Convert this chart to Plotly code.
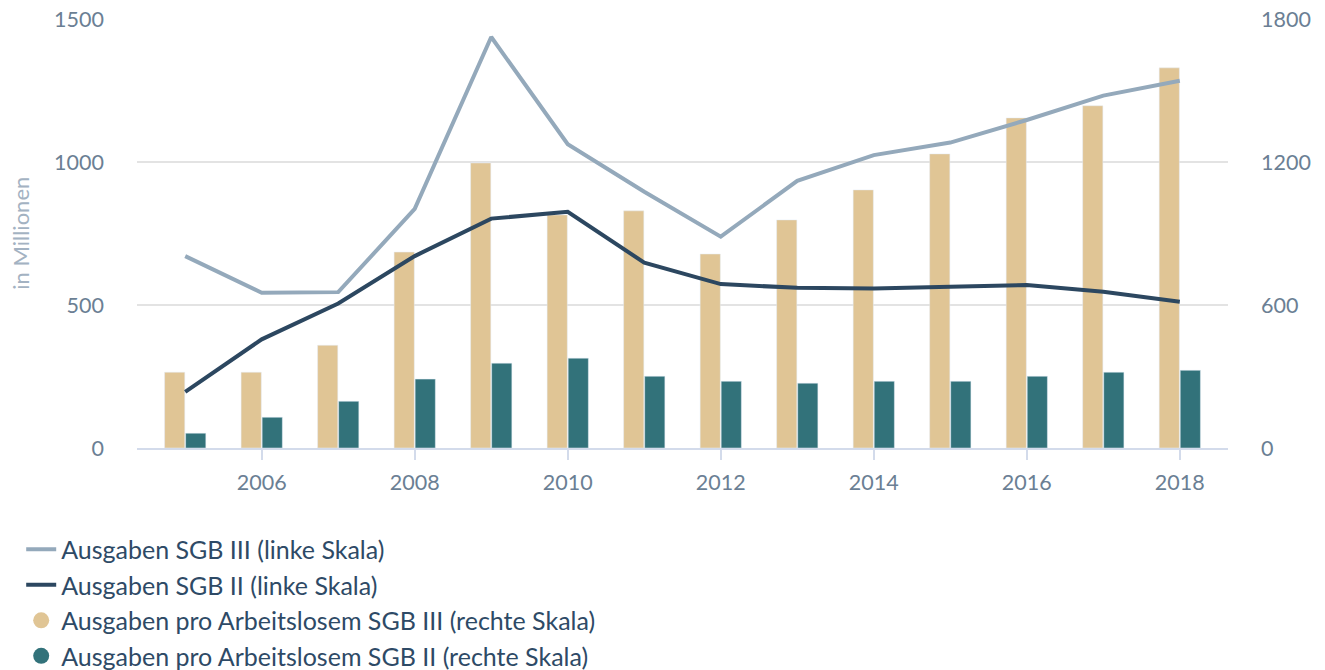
import plotly.graph_objects as go

years = list(range(2005, 2019))
sgb3_total = [671, 543, 545, 836, 1437, 1062, 896, 739, 934, 1024, 1068, 1147, 1232, 1284]
sgb2_total = [196, 380, 505, 671, 802, 826, 648, 573, 560, 558, 564, 570, 546, 511]
sgb3_per = [318, 318, 431, 822, 1196, 978, 995, 814, 957, 1083, 1234, 1385, 1436, 1595]
sgb2_per = [62, 129, 196, 289, 356, 377, 301, 280, 272, 280, 280, 301, 318, 326]

names = [
    "Ausgaben SGB III (linke Skala)",
    "Ausgaben SGB II (linke Skala)",
    "Ausgaben pro Arbeitslosem SGB III (rechte Skala)",
    "Ausgaben pro Arbeitslosem SGB II (rechte Skala)",
]

C_LIGHT = "#94a9bb"
C_DARK = "#2c4760"
C_TAN = "#e0c595"
C_TEAL = "#32727a"
FONT = "Lato"

fig = go.Figure()
# bars on the right scale (base subplot), lines on the left scale (overlay, drawn on top)
fig.add_trace(go.Bar(x=years, y=sgb3_per, yaxis="y", marker_color=C_TAN,
                     name=names[2], showlegend=False, offsetgroup="a"))
fig.add_trace(go.Bar(x=years, y=sgb2_per, yaxis="y", marker_color=C_TEAL,
                     name=names[3], showlegend=False, offsetgroup="b"))
fig.add_trace(go.Scatter(x=years, y=sgb3_total, yaxis="y2", mode="lines", name=names[0],
                         line=dict(color=C_LIGHT, width=4)))
fig.add_trace(go.Scatter(x=years, y=sgb2_total, yaxis="y2", mode="lines", name=names[1],
                         line=dict(color=C_DARK, width=4)))
# legend-only entries for the bars (circle symbols)
fig.add_trace(go.Scatter(x=[None], y=[None], mode="markers", name=names[2],
                         marker=dict(color=C_TAN, size=26, symbol="circle")))
fig.add_trace(go.Scatter(x=[None], y=[None], mode="markers", name=names[3],
                         marker=dict(color=C_TEAL, size=26, symbol="circle")))

fig.update_layout(
    width=1325, height=670,
    margin=dict(l=137, r=97, t=19, b=222, autoexpand=False),
    paper_bgcolor="white", plot_bgcolor="white",
    font=dict(family=FONT, size=21.5, color="#6b7f94"),
    barmode="group", bargap=0.45, bargroupgap=0.04,
    showlegend=True,
    legend=dict(
        xref="container", yref="container", x=0.016, y=0.214,
        xanchor="left", yanchor="top",
        font=dict(family=FONT, size=25, color="#2e4a66"),
        itemsizing="trace", tracegroupgap=0, bgcolor="rgba(0,0,0,0)",
    ),
    xaxis=dict(
        range=[2004.37, 2018.63], tickmode="array",
        tickvals=[2006, 2008, 2010, 2012, 2014, 2016, 2018],
        showgrid=False, showline=True, linecolor="#d3dbeb", linewidth=2,
        ticks="outside", ticklen=10, tickwidth=2, tickcolor="#d3dbeb",
        ticklabelstandoff=4,
        tickfont=dict(size=21.5, color="#6b7f94"), zeroline=False,
    ),
    yaxis=dict(
        range=[0, 1800], tickvals=[0, 600, 1200, 1800],
        side="right", showgrid=True, gridcolor="#e3e3e3", gridwidth=2,
        zeroline=False, showline=False, ticklabelstandoff=32,
        tickfont=dict(size=21.5, color="#6b7f94"),
    ),
    yaxis2=dict(
        range=[0, 1500], tickvals=[0, 500, 1000, 1500],
        overlaying="y", side="left", showgrid=False, zeroline=False,
        showline=False, ticklabelstandoff=32,
        tickfont=dict(size=21.5, color="#6b7f94"),
    ),
    annotations=[dict(
        text="in Millionen", xref="paper", yref="paper", x=-0.107, y=0.5,
        textangle=-90, showarrow=False, xanchor="center", yanchor="middle",
        font=dict(family=FONT, size=22, color="#a3b2c2"),
    )],
)

fig.write_html("out.html")
